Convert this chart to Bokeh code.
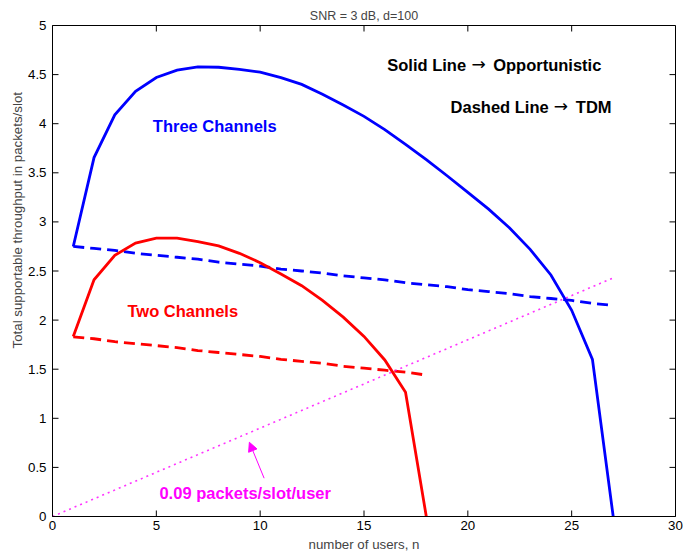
from bokeh.plotting import figure
from bokeh.models import (Range1d, Label, Arrow, NormalHead, Title,
                          FixedTicker, CustomJSTickFormatter)
from bokeh.embed import file_html
from bokeh.resources import INLINE

# Number of users
users_three = list(range(1, 28))
users_two = list(range(1, 19))

# Total supportable throughput (packets/slot), three channels
three_opportunistic = [2.75, 3.655, 4.09, 4.33, 4.47, 4.545, 4.578, 4.575, 4.553,
                       4.525, 4.47, 4.40, 4.30, 4.19, 4.075, 3.94, 3.79, 3.635,
                       3.47, 3.30, 3.13, 2.94, 2.72, 2.46, 2.10, 1.60, 0.0]
three_tdm = [2.75, 2.73, 2.71, 2.68, 2.66, 2.64, 2.62, 2.59, 2.57, 2.55, 2.52,
             2.50, 2.48, 2.45, 2.43, 2.41, 2.38, 2.36, 2.34, 2.31, 2.29, 2.27,
             2.24, 2.22, 2.20, 2.17, 2.15]

# Total supportable throughput (packets/slot), two channels
two_opportunistic = [1.834, 2.41, 2.66, 2.785, 2.835, 2.835, 2.80, 2.755, 2.68,
                     2.585, 2.47, 2.35, 2.20, 2.03, 1.834, 1.594, 1.265, 0.0]
two_tdm = [1.83, 1.81, 1.78, 1.76, 1.74, 1.72, 1.69, 1.67, 1.65, 1.63, 1.60,
           1.58, 1.56, 1.53, 1.51, 1.49, 1.47, 1.44]

# Offered load at 0.09 packets/slot/user
load_users = [0, 27]
load_throughput = [0.0, 2.43]

x_ticks = [0, 5, 10, 15, 20, 25, 30]
y_ticks = [0, 0.5, 1, 1.5, 2, 2.5, 3, 3.5, 4, 4.5, 5]
x_lo, x_hi = 0, 30
y_lo, y_hi = 0, 5

FONT = "Liberation Sans"
BLUE = "#0000ff"
RED = "#ff0000"
MAGENTA = "#ff00ff"

W, H = 684, 556
BORDER_L, BORDER_R, BORDER_T, BORDER_B = 52, 9, 25, 40
TICK_PX = 6

p = figure(width=W, height=H, x_range=Range1d(x_lo, x_hi), y_range=Range1d(y_lo, y_hi),
           output_backend="svg", toolbar_location=None,
           min_border_left=BORDER_L, min_border_right=BORDER_R,
           min_border_top=BORDER_T, min_border_bottom=BORDER_B)
p.grid.visible = False
p.outline_line_color = "black"
p.outline_line_width = 1
p.background_fill_color = "white"
p.border_fill_color = "white"

p.title.text = "SNR = 3 dB, d=100"
p.title.align = "center"
p.title.text_font = FONT
p.title.text_font_style = "normal"
p.title.text_font_size = "12.5px"
p.title.standoff = 6

p.add_layout(Title(text="Total supportable throughput in packets/slot", align="left",
                   offset=168, text_font=FONT, text_font_style="normal",
                   text_font_size="13.3px", standoff=2), "left")

label_fmt = CustomJSTickFormatter(code="return String(tick)")


def style_axis(ax, ticks):
    ax.ticker = FixedTicker(ticks=ticks)
    ax.major_tick_in = 0
    ax.major_tick_out = 0
    ax.minor_tick_in = 0
    ax.minor_tick_out = 0
    ax.axis_line_color = "black"
    ax.formatter = label_fmt
    ax.major_label_text_font = FONT
    ax.major_label_text_font_size = "13.3px"
    ax.major_label_text_color = "black"


style_axis(p.xaxis[0], x_ticks)
p.xaxis[0].major_label_standoff = 4
p.xaxis[0].axis_label = "number of users, n"
p.xaxis[0].axis_label_text_font = FONT
p.xaxis[0].axis_label_text_font_style = "normal"
p.xaxis[0].axis_label_text_font_size = "13.3px"
p.xaxis[0].axis_label_standoff = 4

style_axis(p.yaxis[0], y_ticks)
p.yaxis[0].major_label_standoff = 6

# Inward tick marks on all four edges of the box
dx = (x_hi - x_lo) * TICK_PX / (W - BORDER_L - BORDER_R)
dy = (y_hi - y_lo) * TICK_PX / (H - BORDER_T - BORDER_B)
nx, ny = len(x_ticks), len(y_ticks)
tick_style = dict(line_color="black", line_width=1)
p.segment(x0=x_ticks, y0=[y_lo] * nx, x1=x_ticks, y1=[y_lo + dy] * nx, **tick_style)
p.segment(x0=x_ticks, y0=[y_hi] * nx, x1=x_ticks, y1=[y_hi - dy] * nx, **tick_style)
p.segment(x0=[x_lo] * ny, y0=y_ticks, x1=[x_lo + dx] * ny, y1=y_ticks, **tick_style)
p.segment(x0=[x_hi] * ny, y0=y_ticks, x1=[x_hi - dx] * ny, y1=y_ticks, **tick_style)

# Opportunistic (solid) and TDM (dashed) curves
p.line(users_three, three_opportunistic, line_color=BLUE, line_width=2.8, line_join="miter")
p.line(users_three, three_tdm, line_color=BLUE, line_width=2.8, line_dash="11 6")
p.line(users_two, two_opportunistic, line_color=RED, line_width=2.8, line_join="miter")
p.line(users_two, two_tdm, line_color=RED, line_width=2.8, line_dash="11 6")

# Offered-load reference line
p.line(load_users, load_throughput, line_color=MAGENTA, line_width=1.6,
       line_dash="2 4", line_alpha=0.8)

p.add_layout(Arrow(x_start=10.19, y_start=0.39, x_end=9.48, y_end=0.756,
                   line_color=MAGENTA, line_width=1,
                   end=NormalHead(size=9, fill_color=MAGENTA, line_color=MAGENTA)))


def text(x, y, s, color, size="16.5px", style="bold", font=FONT):
    p.add_layout(Label(x=x, y=y, text=s, text_color=color, text_font=font,
                       text_font_style=style, text_font_size=size,
                       text_baseline="middle", text_align="left"))


text(4.83, 3.98, "Three Channels", BLUE)
text(3.61, 2.096, "Two Channels", RED)
text(16.12, 4.60, "Solid Line", "black")
text(20.18, 4.61, "\u2192", "black", size="17px", style="normal", font="DejaVu Sans")
text(21.22, 4.60, "Opportunistic", "black")
text(19.17, 4.17, "Dashed Line", "black")
text(24.14, 4.18, "\u2192", "black", size="17px", style="normal", font="DejaVu Sans")
text(25.20, 4.17, "TDM", "black")
text(5.15, 0.237, "0.09 packets/slot/user", MAGENTA)

open("out.html", "w").write(file_html(p, INLINE))
